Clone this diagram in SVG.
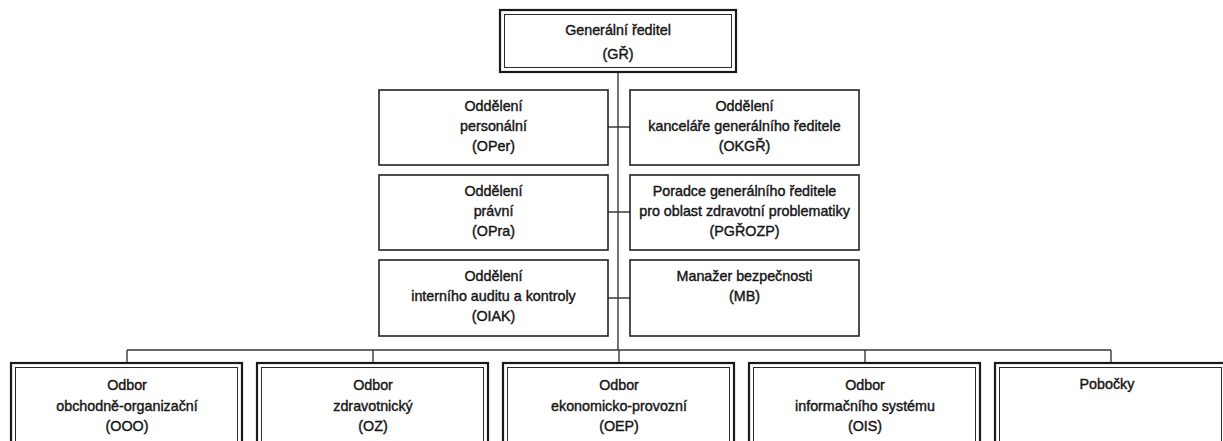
<svg xmlns="http://www.w3.org/2000/svg" width="1223" height="441" viewBox="0 0 1223 441">
<style>
.bg{fill:#ffffff}
.o{fill:#fff;stroke:#1a1a1a;stroke-width:2.2}
.i{fill:none;stroke:#2a2a2a;stroke-width:1}
.s{fill:#fff;stroke:#222;stroke-width:1.6}
.c{fill:none;stroke:#3a3a3a;stroke-width:1.4}
text{font-family:"Liberation Sans",Arial,sans-serif;font-size:14.3px;fill:#151515;text-anchor:middle;stroke:#151515;stroke-width:0.4}
</style>
<rect class="bg" x="0" y="0" width="1223" height="441"/>
<g id="connectors">
<path class="c" d="M618 73 V350"/>
<path class="c" d="M608 127 H630 M608 212 H630 M608 298 H630"/>
<path class="c" d="M127 350 H1111 M127 350 V363 M373 350 V363 M619 350 V363 M865 350 V363 M1111 350 V363"/>
</g>
<g id="GR">
<rect class="o" x="500" y="10" width="236" height="62"/>
<rect class="i" x="504.5" y="14.5" width="227" height="53"/>
<text x="618" y="35">Generální ředitel</text>
<text x="618" y="59">(GŘ)</text>
</g>
<g id="OPer">
<rect class="s" x="379" y="90" width="229" height="75"/>
<text x="493.5" y="111">Oddělení</text>
<text x="493.5" y="131">personální</text>
<text x="493.5" y="151">(OPer)</text>
</g>
<g id="OKGR">
<rect class="s" x="630" y="90" width="229" height="75"/>
<text x="744.5" y="111">Oddělení</text>
<text x="744.5" y="131">kanceláře generálního ředitele</text>
<text x="744.5" y="151">(OKGŘ)</text>
</g>
<g id="OPra">
<rect class="s" x="379" y="175" width="229" height="75"/>
<text x="493.5" y="196">Oddělení</text>
<text x="493.5" y="216">právní</text>
<text x="493.5" y="236">(OPra)</text>
</g>
<g id="PGROZP">
<rect class="s" x="630" y="175" width="229" height="75"/>
<text x="744.5" y="196">Poradce generálního ředitele</text>
<text x="744.5" y="216">pro oblast zdravotní problematiky</text>
<text x="744.5" y="236">(PGŘOZP)</text>
</g>
<g id="OIAK">
<rect class="s" x="379" y="260" width="229" height="76"/>
<text x="493.5" y="281">Oddělení</text>
<text x="493.5" y="301">interního auditu a kontroly</text>
<text x="493.5" y="321">(OIAK)</text>
</g>
<g id="MB">
<rect class="s" x="630" y="260" width="229" height="76"/>
<text x="744.5" y="281">Manažer bezpečnosti</text>
<text x="744.5" y="301">(MB)</text>
</g>
<g id="OOO">
<rect class="o" x="11" y="363" width="231" height="100"/>
<rect class="i" x="15.5" y="367.5" width="222" height="100"/>
<text x="127" y="390">Odbor</text>
<text x="127" y="411">obchodně-organizační</text>
<text x="127" y="431">(OOO)</text>
</g>
<g id="OZ">
<rect class="o" x="257" y="363" width="231" height="100"/>
<rect class="i" x="261.5" y="367.5" width="222" height="100"/>
<text x="373" y="390">Odbor</text>
<text x="373" y="411">zdravotnický</text>
<text x="373" y="431">(OZ)</text>
</g>
<g id="OEP">
<rect class="o" x="503" y="363" width="231" height="100"/>
<rect class="i" x="507.5" y="367.5" width="222" height="100"/>
<text x="619" y="390">Odbor</text>
<text x="619" y="411">ekonomicko-provozní</text>
<text x="619" y="431">(OEP)</text>
</g>
<g id="OIS">
<rect class="o" x="749" y="363" width="231" height="100"/>
<rect class="i" x="753.5" y="367.5" width="222" height="100"/>
<text x="865" y="390">Odbor</text>
<text x="865" y="411">informačního systému</text>
<text x="865" y="431">(OIS)</text>
</g>
<g id="Pobocky">
<rect class="o" x="995" y="363" width="231" height="100"/>
<rect class="i" x="999.5" y="367.5" width="222" height="100"/>
<text x="1107" y="389">Pobočky</text>
</g>
</svg>
